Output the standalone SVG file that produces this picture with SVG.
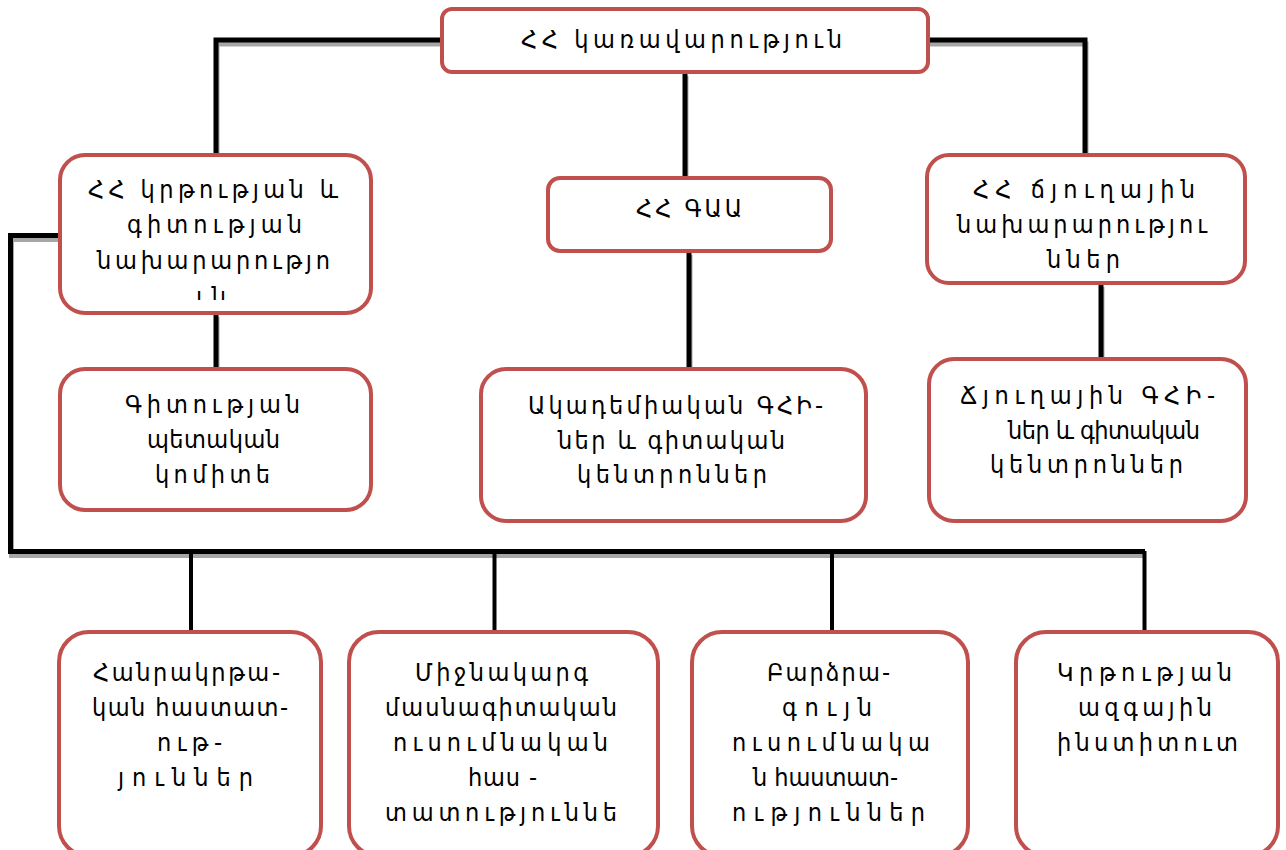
<svg xmlns="http://www.w3.org/2000/svg" width="1286" height="850" viewBox="0 0 1286 850">
<style>
.box{fill:#fff;stroke:#C0504D;stroke-width:4}
.ln{fill:none;stroke:#000;stroke-width:5;stroke-linejoin:miter;stroke-linecap:butt}
.sh{fill:none;stroke:#a6a6a6;stroke-width:5;stroke-linejoin:miter;stroke-linecap:butt}
text{font-family:"DejaVu Sans Condensed","DejaVu Sans",sans-serif;font-size:25px;fill:#000}
</style>
<defs>
<clipPath id="clipL"><rect x="60" y="155" width="311" height="145"/></clipPath>
</defs>
<rect width="1286" height="850" fill="#fff"/>
<g id="connectors">
<g transform="translate(1,4)">
<polyline class="sh" points="442,40 216,40 216,155"/>
<polyline class="sh" points="928,40 1085,40 1085,155"/>
<line class="sh" x1="685" y1="72" x2="685" y2="178"/>
<line class="sh" x1="689" y1="251" x2="689" y2="369"/>
<line class="sh" x1="1101" y1="283" x2="1101" y2="359"/>
<line class="sh" x1="216" y1="313" x2="216" y2="369"/>
<polyline class="sh" points="60,235.5 10.5,235.5 10.5,551.5 1145,551.5"/>
</g>
<polyline class="ln" points="442,40 216,40 216,155"/>
<polyline class="ln" points="928,40 1085,40 1085,155"/>
<line class="ln" x1="685" y1="72" x2="685" y2="178"/>
<line class="ln" x1="689" y1="251" x2="689" y2="369"/>
<line class="ln" x1="1101" y1="283" x2="1101" y2="359"/>
<line class="ln" x1="216" y1="313" x2="216" y2="369"/>
<polyline class="ln" points="60,235.5 10.5,235.5 10.5,551.5 1145,551.5"/>
<line class="ln" style="stroke-width:4" x1="191" y1="551" x2="191" y2="633"/>
<line class="ln" style="stroke-width:4" x1="494.5" y1="551" x2="494.5" y2="633"/>
<line class="ln" style="stroke-width:4" x1="832" y1="551" x2="832" y2="633"/>
<line class="ln" style="stroke-width:4" x1="1144.5" y1="551" x2="1144.5" y2="633"/>
</g>
<g id="top">
<rect class="box" x="442" y="9" width="486" height="63" rx="10"/>
<text x="521" y="48" textLength="321" lengthAdjust="spacing">ՀՀ կառավարություն</text>
</g>
<g id="ministry-edu">
<rect class="box" x="60" y="155" width="311" height="158" rx="25"/>
<text x="88" y="198" textLength="250" lengthAdjust="spacing">ՀՀ կրթության և</text>
<text x="127" y="233" textLength="175" lengthAdjust="spacing">գիտության</text>
<text x="97" y="269" textLength="233" lengthAdjust="spacing">նախարարությո</text>
<text x="214" y="305" text-anchor="middle" letter-spacing="6" clip-path="url(#clipL)">ւն</text>
</g>
<g id="gaa">
<rect class="box" x="548" y="178" width="283" height="73" rx="12"/>
<text x="636" y="217" textLength="106" lengthAdjust="spacing">ՀՀ ԳԱԱ</text>
</g>
<g id="ministry-branch">
<rect class="box" x="927" y="155" width="318" height="128" rx="22"/>
<text x="973" y="198" textLength="222" lengthAdjust="spacing">ՀՀ ճյուղային</text>
<text x="957" y="233" textLength="250" lengthAdjust="spacing">նախարարությու</text>
<text x="1047" y="268" textLength="73" lengthAdjust="spacing">ններ</text>
</g>
<g id="committee">
<rect class="box" x="60" y="369" width="311" height="141" rx="25"/>
<text x="125" y="413" textLength="175" lengthAdjust="spacing">Գիտության</text>
<text x="147" y="448" textLength="133" lengthAdjust="spacing">պետական</text>
<text x="155" y="483" textLength="115" lengthAdjust="spacing">կոմիտե</text>
</g>
<g id="academic">
<rect class="box" x="481" y="369" width="385" height="152" rx="25"/>
<text x="528" y="414" textLength="295" lengthAdjust="spacing">Ակադեմիական ԳՀԻ-</text>
<text x="558" y="449" textLength="227" lengthAdjust="spacing">ներ և գիտական</text>
<text x="577" y="483" textLength="190" lengthAdjust="spacing">կենտրոններ</text>
</g>
<g id="branch">
<rect class="box" x="929" y="359" width="317" height="162" rx="25"/>
<text x="960" y="404" textLength="255" lengthAdjust="spacing">Ճյուղային ԳՀԻ-</text>
<text x="1008" y="439" textLength="192" lengthAdjust="spacing">ներ և գիտական</text>
<text x="990" y="473" textLength="193" lengthAdjust="spacing">կենտրոններ</text>
</g>
<g id="general">
<rect class="box" x="59" y="632" width="262" height="224" rx="30"/>
<text x="93" y="681" textLength="187" lengthAdjust="spacing">Հանրակրթա-</text>
<text x="92" y="716" textLength="196" lengthAdjust="spacing">կան հաստատ-</text>
<text x="157" y="751" textLength="65" lengthAdjust="spacing">ութ-</text>
<text x="118" y="786" textLength="135" lengthAdjust="spacing">յուններ</text>
</g>
<g id="vocational">
<rect class="box" x="349" y="632" width="309" height="224" rx="30"/>
<text x="415" y="681" textLength="173" lengthAdjust="spacing">Միջնակարգ</text>
<text x="385" y="716" textLength="232" lengthAdjust="spacing">մասնագիտական</text>
<text x="393" y="751" textLength="215" lengthAdjust="spacing">ուսումնական</text>
<text x="468" y="786" textLength="69" lengthAdjust="spacing">հաս -</text>
<text x="385" y="821" textLength="232" lengthAdjust="spacing">տատություննե</text>
</g>
<g id="higher">
<rect class="box" x="692" y="632" width="276" height="224" rx="30"/>
<text x="767" y="681" textLength="123" lengthAdjust="spacing">Բարձրա-</text>
<text x="782" y="716" textLength="90" lengthAdjust="spacing">գույն</text>
<text x="732" y="751" textLength="198" lengthAdjust="spacing">ուսումնակա</text>
<text x="753" y="786" textLength="145" lengthAdjust="spacing">ն հաստատ-</text>
<text x="732" y="821" textLength="193" lengthAdjust="spacing">ություններ</text>
</g>
<g id="institute">
<rect class="box" x="1016" y="632" width="262" height="224" rx="30"/>
<text x="1057" y="681" textLength="175" lengthAdjust="spacing">Կրթության</text>
<text x="1078" y="716" textLength="134" lengthAdjust="spacing">ազգային</text>
<text x="1057" y="751" textLength="181" lengthAdjust="spacing">ինստիտուտ</text>
</g>
</svg>
